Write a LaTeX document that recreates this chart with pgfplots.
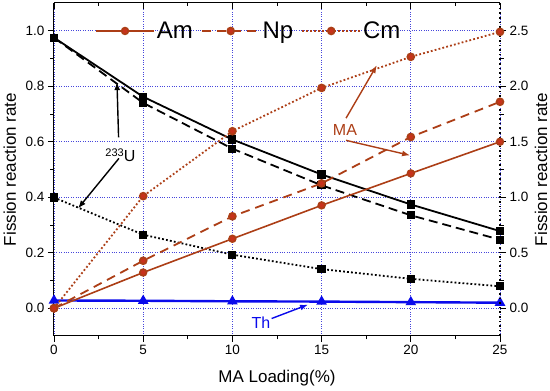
\documentclass[border=0pt]{standalone}
\usepackage{pgfplots}
\pgfplotsset{compat=1.18}
\usepackage{fontspec}
\setmainfont{Liberation Sans}
\usetikzlibrary{arrows.meta}
\definecolor{brn}{RGB}{172,62,22}
\definecolor{brnfill}{RGB}{200,50,28}
\definecolor{thblue}{RGB}{10,10,235}
\definecolor{gridblue}{RGB}{70,70,220}
\pgfplotsset{
  base/.style={
    scale only axis, width=446pt, height=333pt,
    xmin=0, xmax=25,
    /pgf/number format/assume math mode=true,
    tick label style={font=\fontsize{13.5}{16}\selectfont},
    major tick length=6pt, minor tick length=3.5pt,
    every tick/.style={black, line width=0.9pt},
    clip=false,
  }
}
\begin{document}
\begin{tikzpicture}
% ---------- left axis: 233U and Th ----------
\begin{axis}[base,
  ymin=-0.1, ymax=1.1,
  axis x line*=bottom, axis y line*=left,
  axis line style={line width=1pt},
  tick align=outside,
  xtick={0,5,...,25}, minor x tick num=1,
  ytick={0,0.2,0.4,0.6,0.8,1.0}, minor y tick num=1,
  yticklabel style={/pgf/number format/.cd,fixed,fixed zerofill,precision=1},
  grid=major,
  major grid style={gridblue, dotted, line width=0.8pt},
  xlabel={MA Loading(\%)},
  ylabel={Fission reaction rate},
  every axis x label/.style={at={(axis description cs:0.5,-0.126)},anchor=center,font=\fontsize{17}{20}\selectfont},
  every axis y label/.style={at={(axis description cs:-0.099,0.5)},rotate=90,anchor=center,font=\fontsize{17}{20}\selectfont},
]
\addplot[black, line width=1.8pt, mark=square*, mark size=3.2pt, mark options={solid}]
  coordinates {(0,0.975) (5,0.762) (10,0.608) (15,0.482) (20,0.374) (25,0.278)};
\addplot[black, line width=1.8pt, dash pattern=on 9pt off 5pt, mark=square*, mark size=3.2pt, mark options={solid}]
  coordinates {(0,0.975) (5,0.740) (10,0.575) (15,0.443) (20,0.335) (25,0.247)};
\addplot[black, line width=1.8pt, dash pattern=on 1.8pt off 2.2pt, mark=square*, mark size=3.2pt, mark options={solid}]
  coordinates {(0,0.399) (5,0.265) (10,0.193) (15,0.141) (20,0.106) (25,0.079)};
\addplot[thblue, line width=2.4pt, mark=triangle*, mark size=3.8pt, mark options={solid}]
  coordinates {(0,0.028) (5,0.027) (10,0.025) (15,0.024) (20,0.022) (25,0.020)};
\end{axis}
% ---------- right axis: MA ----------
\begin{axis}[base,
  ymin=-0.25, ymax=2.75,
  axis x line=none, axis y line*=right,
  axis line style={line width=1.6pt, dash pattern=on 1.6pt off 3pt},
  tick align=outside,
  ytick={0,0.5,1.0,1.5,2.0,2.5}, minor y tick num=1,
  yticklabel style={/pgf/number format/.cd,fixed,fixed zerofill,precision=1},
  ylabel={Fission reaction rate},
  every axis y label/.style={at={(axis description cs:1.092,0.5)},rotate=90,anchor=center,font=\fontsize{17}{20}\selectfont},
  legend columns=3,
  legend style={at={(axis description cs:0.092,0.916)}, anchor=west, draw=none, fill=none,
    inner sep=0pt, font=\fontsize{24}{28}\selectfont,
    /tikz/every even column/.append style={column sep=6pt},
    /tikz/every odd column/.append style={column sep=0pt}},
  legend image code/.code={\draw[mark repeat=2,mark phase=2,#1] plot coordinates {(0pt,0pt) (29pt,0pt) (58pt,0pt)};},
]
\addplot[brn, line width=1.6pt, mark=*, mark size=3.4pt, mark options={solid, fill=brnfill, draw=brn}]
  coordinates {(0,0) (5,0.322) (10,0.626) (15,0.927) (20,1.215) (25,1.500)};
\addlegendentry{Am}
\addplot[brn, line width=1.8pt, dash pattern=on 9pt off 6pt, mark=*, mark size=3.4pt, mark options={solid, fill=brnfill, draw=brn}]
  coordinates {(0,0) (5,0.428) (10,0.828) (15,1.125) (20,1.543) (25,1.860)};
\addlegendentry{Np}
\addplot[brn, line width=1.8pt, dash pattern=on 1.8pt off 2.2pt, mark=*, mark size=3.4pt, mark options={solid, fill=brnfill, draw=brn}]
  coordinates {(0,0) (5,1.010) (10,1.595) (15,1.985) (20,2.265) (25,2.490)};
\addlegendentry{Cm}
\end{axis}
% ---------- top ticks and annotations ----------
\begin{axis}[base,
  ymin=-0.1, ymax=1.1,
  axis x line*=top, axis y line=none,
  axis line style={line width=1pt},
  tick align=inside,
  xtick={0,5,...,25}, minor x tick num=1, xticklabels={},
]
\node[font=\fontsize{16}{19}\selectfont, anchor=center, inner sep=0pt] at (axis cs:3.72,0.551) {\raisebox{5pt}{\fontsize{11}{13}\selectfont 233}U};
\draw[-{Latex[length=8pt,width=6pt]}, line width=1.4pt] (axis cs:3.62,0.616) -- (axis cs:3.53,0.815);
\draw[-{Latex[length=8pt,width=6pt]}, line width=1.4pt] (axis cs:3.64,0.540) -- (axis cs:1.35,0.360);
\node[font=\fontsize{16}{19}\selectfont, text=brn, anchor=center] at (axis cs:16.31,0.642) {MA};
\draw[brn, -{Latex[length=8pt,width=6pt]}, line width=1.4pt] (axis cs:16.37,0.685) -- (axis cs:18.10,0.876);
\draw[brn, -{Latex[length=8pt,width=6pt]}, line width=1.4pt] (axis cs:16.37,0.605) -- (axis cs:19.96,0.551);
\node[font=\fontsize{16}{19}\selectfont, text=thblue, anchor=center] at (axis cs:11.6,-0.052) {Th};
\draw[thblue, -{Latex[length=8pt,width=6pt]}, line width=1.4pt] (axis cs:12.2,-0.037) -- (axis cs:14.24,0.013);
\end{axis}
\pgfresetboundingbox
\path[use as bounding box] (-54pt,-55pt) rectangle (496pt,336pt);
\end{tikzpicture}
\end{document}
